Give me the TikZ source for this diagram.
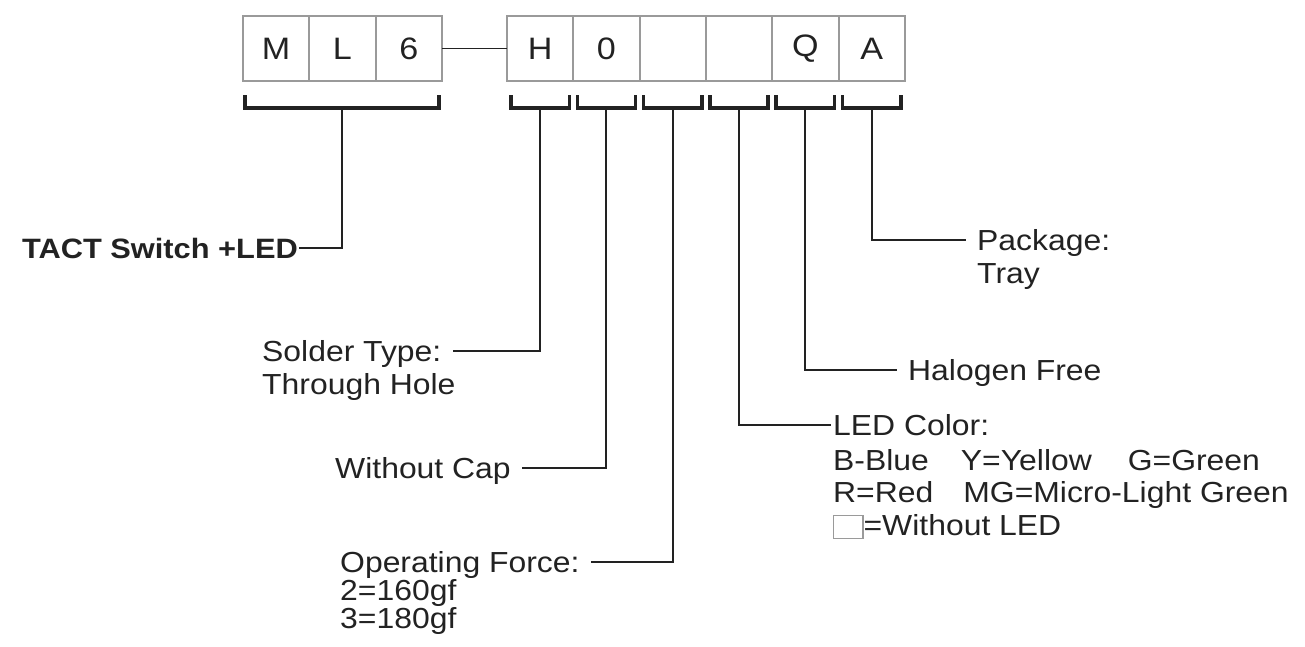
\documentclass[tikz,border=0pt]{standalone}
\usepackage{fontspec}
\setmainfont[FakeStretch=1.1]{Liberation Sans}
\usepackage{tikz}
\usetikzlibrary{calc}
\definecolor{ink}{HTML}{222222}
\definecolor{cellgray}{HTML}{9A9A9A}
\newcommand{\lblsize}{\fontsize{29pt}{33pt}\selectfont}

\begin{document}
\begin{tikzpicture}[x=1pt, y=-1pt,
  cell/.style={draw=cellgray, line width=2pt, minimum width=66.3pt, minimum height=65pt,
    inner sep=0pt, outer sep=0pt, text=ink, font=\fontsize{31pt}{31pt}\selectfont},
  brk/.style={ink, line width=3.5pt},
  lead/.style={ink, line width=2pt},
  lbl/.style={text=ink, font=\lblsize, inner ysep=0pt, inner xsep=11pt,
    text height=21pt, text depth=0pt, anchor=base west}]
  \useasboundingbox (0,0) rectangle (1305,646);
  % code boxes
  \foreach \t [count=\i] in {M,L,6}
    \node[cell] (ml\i) at ({243+66.3*(\i-0.5)},48.5) {\t};
  \foreach \t [count=\i] in {H,0,{},{},Q,A}
    \node[cell] (pn\i) at ({507+66.3*(\i-0.5)},48.5) {\t};
  \draw[ink, line width=1.8pt] (ml3) -- (pn1);
  % brackets under the boxes
  \draw[brk] ($(ml1.south west)+(2,14)$) |- ($(ml3.south east)+(-3,27)$) -- ++(0,-13);
  \coordinate (kml) at ($(ml2.south)+(0,27)$);
  \foreach \i in {1,...,6} {
    \draw[brk] ($(pn\i.south west)+(4,14)$) |- ($(pn\i.south east)+(-4,27)$) -- ++(0,-13);
    \coordinate (k\i) at ($(pn\i.south)+(0,27)$);
  }
  % labels
  \node[lbl, anchor=base east, inner xsep=1pt, font=\fontsize{28pt}{33pt}\selectfont\bfseries] (tact) at (299,258) {TACT Switch +LED};
  \node[lbl] (solder) at (251,361) {Solder Type:};
  \node[lbl] (solder2) at (251,394) {Through Hole};
  \node[lbl] (wcap) at (324,478) {Without Cap};
  \node[lbl] (opf) at (329,572) {Operating Force:};
  \node[lbl] (opf2) at (329,600) {2=160gf};
  \node[lbl] (opf3) at (329,628) {3=180gf};
  \node[lbl, inner xsep=2pt] (led) at (831,435) {LED Color:};
  \node[lbl, inner xsep=2pt] (led2) at (831,470) {B-Blue\hspace{32pt}Y=Yellow\hspace{36pt}G=Green};
  \node[lbl, inner xsep=2pt] (led3) at (831,502) {R=Red\hspace{30pt}MG=Micro-Light Green};
  \node[lbl, inner xsep=2pt] (led4) at (831,535) {{\setlength{\fboxsep}{0pt}\setlength{\fboxrule}{1.2pt}\raisebox{-3pt}{\fcolorbox{cellgray}{white}{\rule{0pt}{22pt}\hspace{28pt}}}}=Without LED};
  \node[lbl] (halo) at (897,380) {Halogen Free};
  \node[lbl] (pkg) at (966,250) {Package:};
  \node[lbl] (pkg2) at (966,283) {Tray};
  % leaders
  \draw[lead] (kml) |- (tact.east);
  \draw[lead] (k1) |- (solder.east);
  \draw[lead] (k2) |- (wcap.east);
  \draw[lead] (k3) |- (opf.east);
  \draw[lead] (k4) |- (led.west);
  \draw[lead] (k5) |- (halo.west);
  \draw[lead] (k6) |- (pkg.west);
\end{tikzpicture}
\end{document}
